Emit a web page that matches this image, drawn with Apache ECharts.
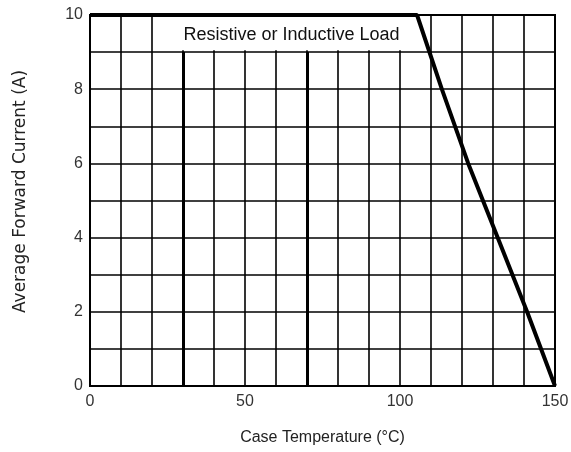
<!DOCTYPE html>
<html><head><meta charset="utf-8">
<script src="https://cdn.jsdelivr.net/npm/echarts@6/dist/echarts.min.js"></script>
<style>html,body{margin:0;padding:0;background:#fff}#c{width:571px;height:452px}</style>
</head><body><div id="c"></div>
<script>
// Data
const curveTemp = [0, 105.5, 113.5, 122, 131.5, 141, 150];
const curveCurrent = [10, 10, 8, 6, 4, 2, 0];
const xTickLabels = [0, 50, 100, 150];
const yTickLabels = [0, 2, 4, 6, 8, 10];
const thickLinesX = [30, 70];
const noteText = 'Resistive or Inductive Load';
const noteBox = { x0: 29.6, x1: 100.4, y0: 9.05, y1: 10 };

const font = 'Liberation Sans, Arial, sans-serif';
const chart = echarts.init(document.getElementById('c'));
chart.setOption({
  animation: false,
  backgroundColor: '#fff',
  grid: { left: 90, right: 16, top: 15, bottom: 66, containLabel: false, outerBoundsMode: 'none',
    show: true, borderColor: '#000', borderWidth: 2, backgroundColor: 'transparent' },
  xAxis: {
    type: 'value', min: 0, max: 150, interval: 10,
    name: 'Case Temperature (°C)', nameLocation: 'middle', nameGap: 44,
    nameTextStyle: { fontFamily: font, fontSize: 16, color: '#222' },
    axisLine: { show: true, lineStyle: { color: '#000', width: 2 } },
    axisTick: { show: false },
    axisLabel: { fontFamily: font, fontSize: 16, color: '#333', margin: 8,
      formatter: v => xTickLabels.includes(v) ? String(v) : '' },
    splitLine: { show: true, lineStyle: { color: '#000', width: 1.6 } }
  },
  yAxis: {
    type: 'value', min: 0, max: 10, interval: 1,
    name: 'Average Forward Current (A)', nameLocation: 'middle', nameGap: 61, nameRotate: 90,
    nameTextStyle: { fontFamily: 'DejaVu Sans, sans-serif', fontSize: 17, color: '#222', padding: [0, 0, 0, 18] },
    axisLine: { show: true, lineStyle: { color: '#000', width: 2 } },
    axisTick: { show: false },
    axisLabel: { fontFamily: font, fontSize: 16, color: '#333', margin: 7,
      formatter: v => yTickLabels.includes(v) ? String(v) : '' },
    splitLine: { show: true, lineStyle: { color: '#000', width: 1.6 } }
  },
  series: [{
    type: 'line',
    data: curveTemp.map((t, i) => [t, curveCurrent[i]]),
    symbol: 'none',
    z: 5,
    lineStyle: { color: '#000', width: 4 },
    markArea: {
      silent: true,
      itemStyle: { color: '#fff' },
      label: { show: true, position: 'inside', offset: [0, 2], fontFamily: font, fontSize: 18, color: '#111', formatter: noteText },
      data: [[{ coord: [noteBox.x0, noteBox.y1] }, { coord: [noteBox.x1, noteBox.y0] }]]
    },
    markLine: {
      silent: true, symbol: 'none', label: { show: false },
      lineStyle: { color: '#000', width: 3, type: 'solid' },
      data: thickLinesX.map(x => [{ coord: [x, 0] }, { coord: [x, 9] }])
    }
  }]
});
</script>
</body></html>
